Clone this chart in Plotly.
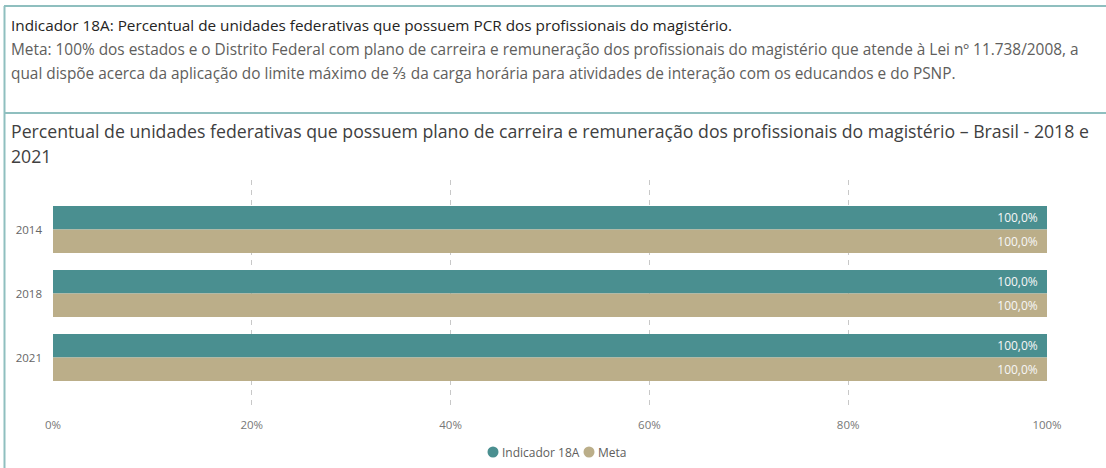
import plotly.graph_objects as go

# Data
anos = ["2014", "2018", "2021"]
indicador_18a = [100.0, 100.0, 100.0]
meta = [100.0, 100.0, 100.0]
x_ticks = [0, 20, 40, 60, 80, 100]
x_tick_labels = ["0%", "20%", "40%", "60%", "80%", "100%"]
series_names = ["Indicador 18A", "Meta"]

TEAL = "#4a8f90"
TAN = "#bbae89"
BORDER = "#8fbfbf"
FONT = "Segoe UI, Open Sans, Noto Sans, sans-serif"

W, H = 1106, 468
L, R, T, B = 53, 1047, 180, 405  # plot area in pixels


def px(p):
    return (p - L) / (R - L)


def py(p):
    return (B - p) / (B - T)


LABEL = "%{x:.1f}%\u00a0\u00a0"

fig = go.Figure()
fig.add_trace(go.Bar(
    y=anos, x=indicador_18a, name=series_names[0], orientation="h",
    marker=dict(color=TEAL, line=dict(width=0)),
    texttemplate=LABEL, textposition="inside", insidetextanchor="end",
    textfont=dict(color="#f7f7f7", size=12, family=FONT),
    showlegend=False,
))
fig.add_trace(go.Bar(
    y=anos, x=meta, name=series_names[1], orientation="h",
    marker=dict(color=TAN, line=dict(width=0)),
    texttemplate=LABEL, textposition="inside", insidetextanchor="end",
    textfont=dict(color="#f7f7f7", size=12, family=FONT),
    showlegend=False,
))

# category axis range so groups sit at their spacing within the plot area
unit = 64.0
top_offset = 49.5 / unit
y_range = [(B - T) / unit - top_offset, -top_offset]

annotations = [
    dict(x=px(9), y=py(25), xref="paper", yref="paper", xanchor="left", yanchor="middle",
         text="Indicador 18A: Percentual de unidades federativas que possuem PCR dos profissionais do magistério.",
         showarrow=False, font=dict(size=15.3, color="#252423", family=FONT)),
    dict(x=px(9), y=py(49), xref="paper", yref="paper", xanchor="left", yanchor="middle",
         text="Meta: 100% dos estados e o Distrito Federal com plano de carreira e remuneração dos profissionais do magistério que atende à Lei nº 11.738/2008, a",
         showarrow=False, font=dict(size=15.4, color="#605e5c", family=FONT)),
    dict(x=px(9), y=py(73), xref="paper", yref="paper", xanchor="left", yanchor="middle",
         text="qual dispõe acerca da aplicação do limite máximo de ⅔ da carga horária para atividades de interação com os educandos e do PSNP.",
         showarrow=False, font=dict(size=15.4, color="#605e5c", family=FONT)),
    dict(x=px(9), y=py(131), xref="paper", yref="paper", xanchor="left", yanchor="middle",
         text="Percentual de unidades federativas que possuem plano de carreira e remuneração dos profissionais do magistério – Brasil - 2018 e",
         showarrow=False, font=dict(size=17.7, color="#404040", family=FONT)),
    dict(x=px(9), y=py(156), xref="paper", yref="paper", xanchor="left", yanchor="middle",
         text="2021",
         showarrow=False, font=dict(size=17.7, color="#404040", family=FONT)),
]

shapes = [
    dict(type="line", xref="paper", yref="paper", x0=px(4), x1=px(W), y0=py(6), y1=py(6),
         line=dict(color=BORDER, width=2)),
    dict(type="line", xref="paper", yref="paper", x0=px(4), x1=px(W), y0=py(113), y1=py(113),
         line=dict(color=BORDER, width=2)),
    dict(type="line", xref="paper", yref="paper", x0=px(4.5), x1=px(4.5), y0=py(6), y1=py(H),
         line=dict(color=BORDER, width=2)),
]

# legend: coloured dot followed by the series name
legend_items = [(series_names[0], TEAL, 493), (series_names[1], TAN, 589)]
for name, color, cx in legend_items:
    shapes.append(dict(type="circle", xref="paper", yref="paper",
                       x0=px(cx - 5.5), x1=px(cx + 5.5), y0=py(452 + 5.5), y1=py(452 - 5.5),
                       fillcolor=color, line=dict(width=0)))
    annotations.append(dict(x=px(cx + 7), y=py(452), xref="paper", yref="paper",
                            xanchor="left", yanchor="middle", text=name, showarrow=False,
                            font=dict(size=12, color="#605e5c", family=FONT)))

fig.update_layout(
    width=W, height=H,
    margin=dict(l=L, r=W - R, t=T, b=H - B, pad=0),
    paper_bgcolor="white", plot_bgcolor="white",
    barmode="group", bargap=0.266, bargroupgap=0,
    separators=",.",
    font=dict(family=FONT),
    annotations=annotations,
    shapes=shapes,
    xaxis=dict(
        range=[0, 100], tickmode="array", tickvals=x_ticks, ticktext=x_tick_labels,
        showgrid=True, gridcolor="#c8c8c8", griddash="5px,5px", gridwidth=1,
        zeroline=False, showline=False,
        tickfont=dict(size=11.5, color="#777777", family=FONT),
        ticklabelstandoff=11,
    ),
    yaxis=dict(
        type="category", range=y_range,
        showgrid=False, zeroline=False, showline=False,
        tickfont=dict(size=11.5, color="#666666", family=FONT),
        ticklabelstandoff=10,
    ),
)

fig.write_html("out.html")
